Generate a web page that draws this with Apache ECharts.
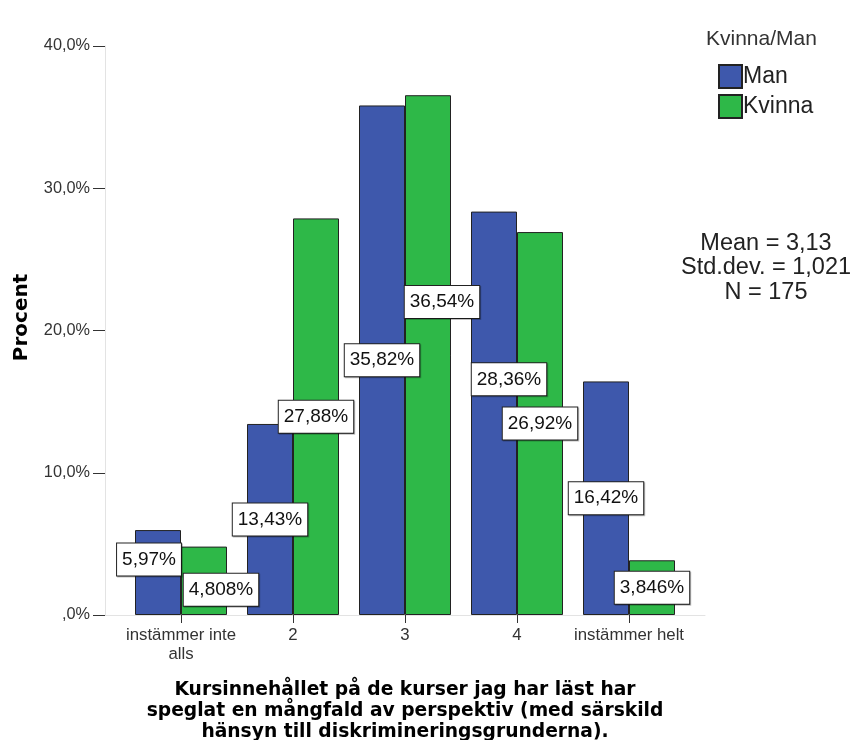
<!DOCTYPE html>
<html>
<head>
<meta charset="utf-8">
<script src="https://cdn.jsdelivr.net/npm/echarts@6/dist/echarts.min.js"></script>
<style>
html,body{margin:0;padding:0;background:#fff;}
#main{width:853px;height:740px;}
</style>
</head>
<body>
<div id="main"></div>
<script>
// svarsalternativ
var categories = ['instämmer inte\nalls', '2', '3', '4', 'instämmer helt'];
// procent per kön
var manValues = [5.97, 13.43, 35.82, 28.36, 16.42];
var kvinnaValues = [4.808, 27.88, 36.54, 26.92, 3.846];
var yTicks = [0, 10, 20, 30, 40];
var statsLines = ['Mean = 3,13', 'Std.dev. = 1,021', 'N = 175'];

// etiketter som SPSS flyttat för att inte krocka
var manNudge = {0: [-9, -13], 3: [15, -34]};
var kvinnaNudge = {0: [17, 9], 2: [14, -53]};

var FONT = '"Liberation Sans", Arial, sans-serif';

function pct(v) {
	return String(v).replace('.', ',') + '%';
}
function buildData(vals, nudge) {
	var out = [];
	for (var i = 0; i < vals.length; i++) {
		var item = {value: vals[i]};
		if (nudge[i]) item.label = {offset: nudge[i]};
		out.push(item);
	}
	return out;
}

var labelInfo = {
	show: true,
	position: 'inside',
	formatter: function (p) { return pct(p.value); },
	fontFamily: FONT,
	fontSize: 19,
	lineHeight: 20,
	color: '#111',
	backgroundColor: '#fff',
	borderColor: '#222',
	borderWidth: 1,
	padding: [6, 5],
	shadowColor: 'rgba(0,0,0,0.25)',
	shadowOffsetX: 1,
	shadowOffsetY: 1
};

var myChart = echarts.init(document.getElementById('main'));
var option = {
	backgroundColor: '#fff',
	animation: false,
	title: [
		{
			text: 'Kvinna/Man',
			left: 706, top: 29, padding: 0,
			textStyle: {fontFamily: FONT, fontSize: 21, fontWeight: 'normal', color: '#333'}
		},
		{
			text: statsLines.join('\n'),
			left: 766, top: 231, padding: 0,
			textAlign: 'center',
			textStyle: {fontFamily: FONT, fontSize: 23.5, lineHeight: 24.5, fontWeight: 'normal', color: '#222'}
		}
	],
	legend: {
		orient: 'vertical',
		left: 718, top: 64, padding: 0,
		itemWidth: 23, itemHeight: 23, itemGap: 5,
		icon: 'rect',
		textStyle: {fontFamily: FONT, fontSize: 23, lineHeight: 23, color: '#222', padding: [0, 0, 0, -4]},
		data: ['Man', 'Kvinna']
	},
	grid: [
		{left: 105, right: 148, top: 46, bottom: 125, outerBoundsMode: 'none', containLabel: false},
		{left: 125, right: 168, top: 46, bottom: 125, outerBoundsMode: 'none', containLabel: false}
	],
	xAxis: [
		{
			gridIndex: 0, type: 'value', min: 0, max: 1,
			axisLine: {show: true, lineStyle: {color: '#e3e3e3'}},
			axisTick: {show: false}, axisLabel: {show: false}, splitLine: {show: false},
			name: 'Kursinnehållet på de kurser jag har läst har\nspeglat en mångfald av perspektiv (med särskild\nhänsyn till diskrimineringsgrunderna).',
			nameLocation: 'middle', nameGap: 65,
			nameTextStyle: {fontFamily: '"DejaVu Sans", sans-serif', fontWeight: 'bold', fontSize: 18.7, lineHeight: 21, color: '#000', verticalAlign: 'top'}
		},
		{
			gridIndex: 1, type: 'category', data: categories,
			axisLine: {show: false},
			axisTick: {show: true, alignWithLabel: true, length: 8, lineStyle: {color: '#333'}},
			axisLabel: {fontFamily: FONT, fontSize: 16.8, lineHeight: 19, color: '#333', margin: 11, interval: 0},
			splitLine: {show: false}
		}
	],
	yAxis: [
		{
			gridIndex: 0, type: 'value', min: 0, max: 40, interval: 10,
			axisLine: {show: true, lineStyle: {color: '#e3e3e3'}},
			axisTick: {show: true, length: 12, lineStyle: {color: '#333'}},
			axisLabel: {
				fontFamily: FONT, fontSize: 16.3, color: '#333', margin: 15,
				formatter: function (v) { return v === 0 ? ',0%' : v.toFixed(1).replace('.', ',') + '%'; }
			},
			splitLine: {show: false},
			name: 'Procent', nameLocation: 'middle', nameGap: 73,
			nameTextStyle: {fontFamily: '"DejaVu Sans", sans-serif', fontWeight: 'bold', fontSize: 20, color: '#000', padding: [0, 0, 0, 26]}
		},
		{
			gridIndex: 1, type: 'value', min: 0, max: 40, interval: 10,
			show: false, splitLine: {show: false}
		}
	],
	series: [
		{
			name: 'Man', type: 'bar', xAxisIndex: 1, yAxisIndex: 1,
			barWidth: 46, barGap: '0%',
			itemStyle: {color: '#3e58ac', borderColor: '#222', borderWidth: 1},
			label: labelInfo,
			data: buildData(manValues, manNudge)
		},
		{
			name: 'Kvinna', type: 'bar', xAxisIndex: 1, yAxisIndex: 1,
			barWidth: 46, barGap: '0%',
			itemStyle: {color: '#2eb848', borderColor: '#222', borderWidth: 1},
			label: labelInfo,
			data: buildData(kvinnaValues, kvinnaNudge)
		}
	]
};
myChart.setOption(option);
</script>
</body>
</html>
